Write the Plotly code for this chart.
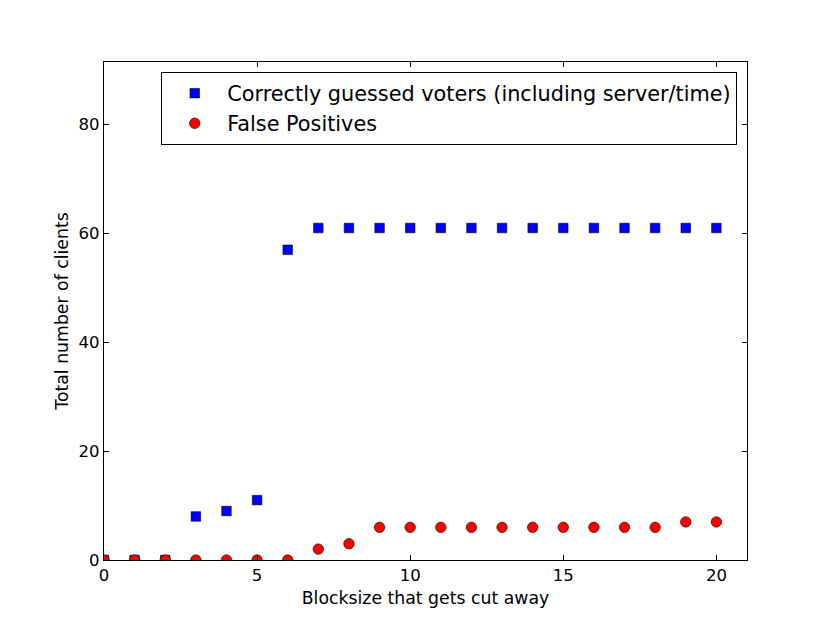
import plotly.graph_objects as go

blocksize = list(range(21))
correct = [0, 0, 0, 8, 9, 11, 57, 61, 61, 61, 61, 61, 61, 61, 61, 61, 61, 61, 61, 61, 61]
false_pos = [0, 0, 0, 0, 0, 0, 0, 2, 3, 6, 6, 6, 6, 6, 6, 6, 6, 6, 6, 7, 7]

FONT = "DejaVu Sans"

fig = go.Figure()
fig.add_trace(go.Scatter(
    x=blocksize, y=correct, mode="markers",
    name="Correctly guessed voters (including server/time)",
    marker=dict(symbol="square", size=9.5, color="#0000ff",
                line=dict(color="black", width=0.6)),
    cliponaxis=True,
))
fig.add_trace(go.Scatter(
    x=blocksize, y=false_pos, mode="markers",
    name="False Positives",
    marker=dict(symbol="circle", size=10.5, color="#ff0000",
                line=dict(color="black", width=0.6)),
    cliponaxis=True,
))

axis_common = dict(
    showgrid=False, zeroline=False, showline=True, linecolor="black",
    linewidth=1.2, mirror="ticks", ticks="inside", ticklen=5,
    tickcolor="black", tickwidth=1,
    tickfont=dict(family=FONT, size=16.5, color="black"),
)

fig.update_layout(
    width=830, height=623,
    margin=dict(l=96, r=91, t=54, b=71),
    paper_bgcolor="white", plot_bgcolor="white",
    font=dict(family=FONT, size=16.5, color="black"),
    xaxis=dict(range=[0, 21], tickvals=[0, 5, 10, 15, 20],
               title=dict(text="Blocksize that gets cut away", standoff=7,
                          font=dict(family=FONT, size=17.3)),
               **axis_common),
    yaxis=dict(range=[0, 91.5], tickvals=[0, 20, 40, 60, 80],
               title=dict(text="Total number of clients", standoff=5,
                          font=dict(family=FONT, size=17.3)),
               **axis_common),
    legend=dict(x=0.9845, y=0.98, xanchor="right", yanchor="top",
                bgcolor="white", bordercolor="black", borderwidth=1.2,
                font=dict(family=FONT, size=20.8), tracegroupgap=0,
                itemsizing="trace", itemwidth=55),
    showlegend=True,
)

fig.write_html("out.html")
